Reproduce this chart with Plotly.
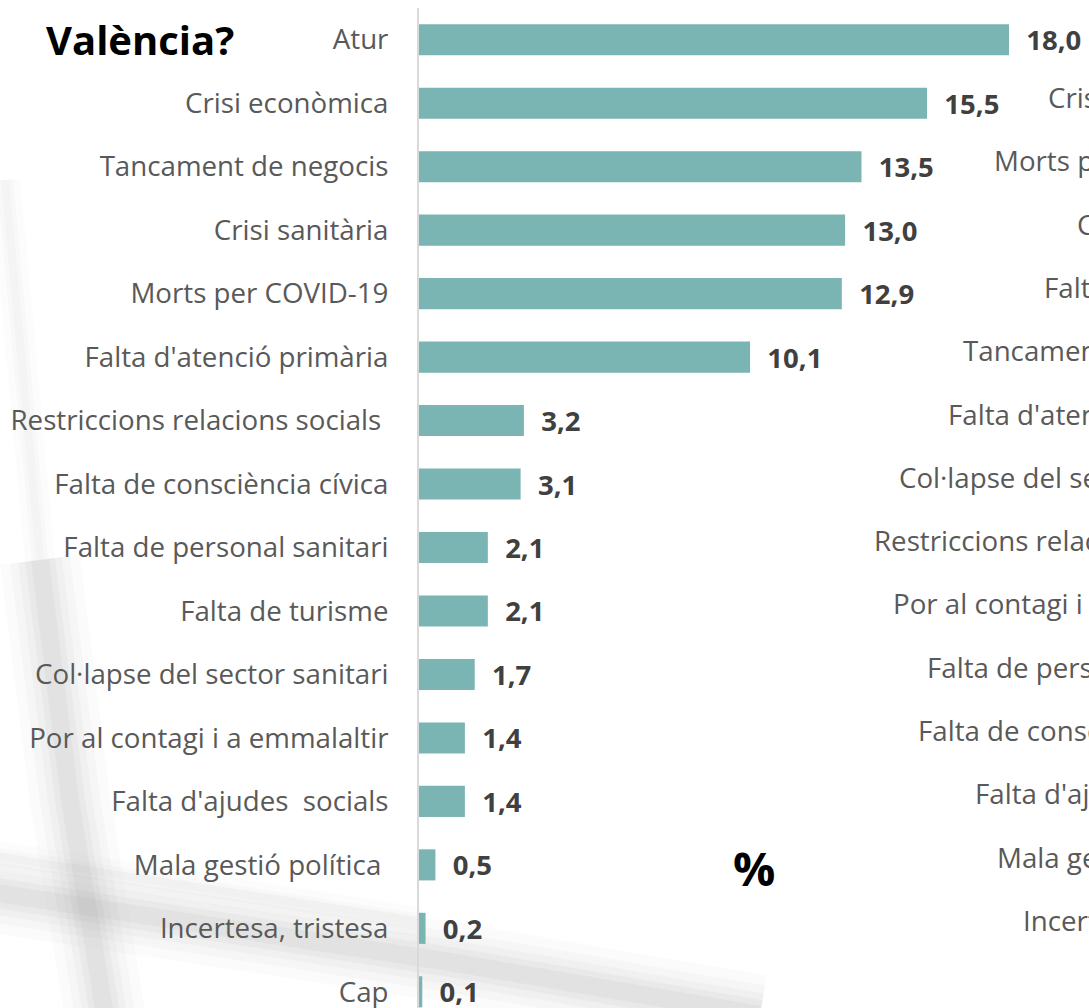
import plotly.graph_objects as go

W, H = 1089, 1008

# Main chart data (top to bottom)
categories = [
    "Atur", "Crisi econòmica", "Tancament de negocis", "Crisi sanitària",
    "Morts per COVID-19", "Falta d'atenció primària",
    "Restriccions relacions socials\u00a0", "Falta de consciència cívica",
    "Falta de personal sanitari", "Falta de turisme",
    "Col·lapse del sector sanitari", "Por al contagi i a emmalaltir",
    "Falta d'ajudes\u00a0 socials", "Mala gestió política\u00a0",
    "Incertesa, tristesa", "Cap",
]
values = [18.0, 15.5, 13.5, 13.0, 12.9, 10.1, 3.2, 3.1, 2.1, 2.1, 1.7, 1.4, 1.4, 0.5, 0.2, 0.1]

# Second (cropped) chart category labels, top to bottom
categories2 = [
    "Atur", "Crisi econòmica", "Morts per COVID-19", "Crisi sanitària",
    "Falta de turisme", "Tancament de negocis", "Falta d'atenció primària",
    "Col·lapse del sector sanitari", "Restriccions relacions socials\u00a0",
    "Por al contagi i a emmalaltir", "Falta de personal sanitari",
    "Falta de consciència cívica", "Falta d'ajudes\u00a0 socials",
    "Mala gestió política\u00a0", "Incertesa, tristesa", "Cap",
]

FONT = "Open Sans"
LABEL_COLOR = "#595959"
BAR_COLOR = "#7AB5B4"
LSIZE = 27.7

fig = go.Figure()

# faint background shadows (drawn first, below everything)
def band(pts, color, width, opacity):
    path = "M " + " L ".join(f"{x / W:.5f},{1 - y / H:.5f}" for x, y in pts)
    fig.add_shape(type="path", xref="paper", yref="paper", path=path,
                  line=dict(color=color, width=width), opacity=opacity, layer="below")

vert_lo = [(40, 560), (70, 800), (105, 1015)]
horiz = [(-10, 892), (450, 962), (760, 1015)]
for w, op in [(80, 0.025), (60, 0.03), (44, 0.04), (30, 0.05), (18, 0.06)]:
    band(vert_lo, "#808080", w, op)
    band(horiz, "#808080", w, op)
for w, op in [(30, 0.02), (16, 0.03), (8, 0.03)]:
    band([(5, 180), (40, 560)], "#909090", w, op)
    band([(-10, 855), (420, 922)], "#a0a0a0", w, op)

fig.add_trace(go.Bar(
    x=values, y=categories, orientation="h",
    marker=dict(color=BAR_COLOR, line=dict(width=0)),
    width=0.49,
    texttemplate="\u00a0\u00a0<b>%{x:.1f}</b>",
    textposition="outside",
    constraintext="none",
    cliponaxis=False,
    textfont=dict(family=FONT, size=27.5, color="#404040"),
    hoverinfo="skip", showlegend=False,
))
# invisible trace registering the second chart's categories
fig.add_trace(go.Scatter(
    x=[0] * len(categories2), y=categories2, yaxis="y2", mode="markers",
    marker=dict(opacity=0), hoverinfo="skip", showlegend=False,
))

# second chart labels (cut off at the right edge)
for c in categories2:
    fig.add_annotation(
        x=1254 / W, xref="paper", xanchor="right",
        y=c, yref="y2", yanchor="middle",
        text=c, showarrow=False,
        font=dict(family=FONT, size=LSIZE, color=LABEL_COLOR),
    )

fig.add_annotation(
    x=44 / W, xref="paper", xanchor="left",
    y=1 - 40 / H, yref="paper", yanchor="middle",
    text="<b>València?</b>", showarrow=False,
    font=dict(family=FONT, size=40, color="black"),
)
fig.add_annotation(
    x=754 / W, xref="paper", xanchor="center",
    y=1 - 868 / H, yref="paper", yanchor="middle",
    text="<b>%</b>", showarrow=False,
    font=dict(family=FONT, size=47, color="black"),
)

xmax = 18.0 * 670 / 590
fig.update_layout(
    width=W, height=H,
    margin=dict(l=0, r=0, t=0, b=0),
    paper_bgcolor="white", plot_bgcolor="rgba(0,0,0,0)",
    separators=",.",
    xaxis=dict(domain=[419 / W, 1], range=[0, xmax], visible=False, fixedrange=True),
    yaxis=dict(
        domain=[0, 1 - 8 / H], range=[15.255, -0.5],
        categoryorder="array", categoryarray=categories,
        showline=True, linecolor="#d9d9d9", linewidth=2,
        showgrid=False, zeroline=False, ticks="",
        ticklabelstandoff=23, automargin=False, fixedrange=True,
        tickfont=dict(family=FONT, size=LSIZE, color=LABEL_COLOR),
    ),
    yaxis2=dict(
        overlaying="y", domain=[0, 1 - 8 / H], range=[15.39, -0.406],
        categoryorder="array", categoryarray=categories2,
        visible=False, anchor="x", fixedrange=True,
    ),
)

fig.write_html(
    "out.html",
    config={"displayModeBar": False},
    post_script="document.body.style.margin='0';document.body.style.overflow='hidden';",
)
